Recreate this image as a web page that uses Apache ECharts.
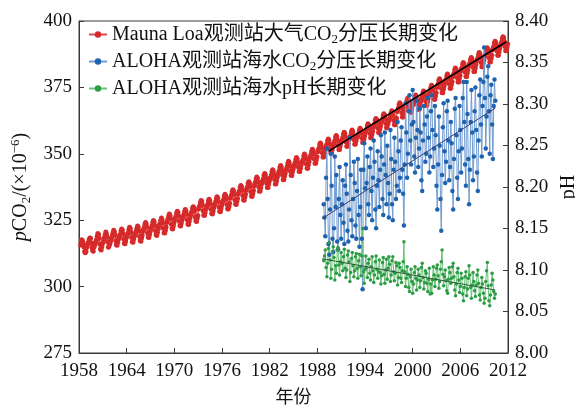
<!DOCTYPE html>
<html><head><meta charset="utf-8">
<script src="https://cdn.jsdelivr.net/npm/echarts@6/dist/echarts.min.js"></script>
<style>html,body{margin:0;padding:0;background:#fff}#c{width:575px;height:410px}</style>
</head><body><div id="c"></div>
<script>
// ---------------- data ----------------
const seriesNames = ['Mauna Loa观测站大气CO2分压长期变化', 'ALOHA观测站海水CO2分压长期变化', 'ALOHA观测站海水pH长期变化'];
const xTickLabels = ['1958','1964','1970','1976','1982','1988','1994','2000','2006','2012'];
const leftTickValues = [275, 300, 325, 350, 375, 400];
const rightTickValues = [8.00, 8.05, 8.10, 8.15, 8.20, 8.25, 8.30, 8.35, 8.40];

// Mauna Loa monthly atmospheric CO2, starting March 1958
const mlStartYear = 1958, mlStartMonth = 3;
const maunaLoaCO2 = [
315.7,317.5,317.5,317.1,315.9,314.9,313.2,312.7,313.3,314.7,
315.6,316.4,316.7,317.7,318.3,318.2,316.5,314.8,313.8,313.3,314.8,315.6,
316.4,317.0,317.6,319.0,320.0,319.6,318.2,315.9,314.2,313.8,315.0,316.2,
316.9,317.7,318.5,319.5,320.6,319.8,318.6,316.8,314.8,315.4,316.1,317.0,
318.0,318.6,319.3,320.4,321.2,320.6,319.4,317.3,315.8,315.6,316.7,317.8,
318.5,319.1,319.7,321.0,321.7,321.2,319.9,317.9,316.3,316.1,317.2,318.4,
319.1,319.8,320.4,321.6,322.3,321.8,320.5,318.5,316.9,316.7,317.8,319.0,
319.5,320.2,320.9,322.0,322.8,322.3,320.9,318.9,317.4,317.1,318.3,319.4,
320.9,321.5,322.2,323.4,324.1,323.6,322.3,320.3,318.7,318.5,319.6,320.8,
321.7,322.2,323.0,324.2,324.9,324.4,323.0,321.0,319.5,319.2,320.4,321.6,
322.5,323.2,323.8,325.0,325.8,325.2,323.9,322.0,320.3,320.2,321.2,322.4,
324.1,324.7,325.5,326.6,327.3,326.8,325.5,323.5,321.9,321.7,322.8,324.0,
325.2,325.8,326.5,327.7,328.4,327.9,326.6,324.6,323.0,322.8,323.9,325.1,
325.8,326.4,327.1,328.3,329.0,328.5,327.2,325.2,323.6,323.4,324.5,325.7,
326.9,327.6,328.3,329.5,330.1,329.7,328.4,326.3,324.8,324.5,325.7,326.8,
329.2,329.8,330.5,331.7,332.4,331.9,330.6,328.6,327.0,326.8,327.9,329.1,
329.7,330.3,331.0,332.2,332.9,332.4,331.1,329.1,327.5,327.3,328.4,329.6,
330.6,331.2,331.9,333.1,333.8,333.3,332.0,330.0,328.4,328.2,329.3,330.5,
331.5,332.2,332.8,334.0,334.8,334.2,332.9,330.9,329.3,329.2,330.2,331.4,
333.3,333.9,334.6,335.8,336.5,336.0,334.7,332.7,331.1,330.9,332.0,333.2,
334.9,335.5,336.2,337.4,338.1,337.6,336.3,334.3,332.7,332.5,333.6,334.8,
336.3,336.9,337.6,338.8,339.5,339.0,337.7,335.7,334.1,333.9,335.0,336.2,
337.9,338.6,339.3,340.5,341.3,340.8,339.4,337.6,335.9,336.0,337.2,338.5,
339.3,339.9,340.6,341.9,342.6,342.1,340.8,338.9,337.3,337.3,338.6,339.8,
340.7,341.2,342.0,343.2,344.0,343.4,342.1,340.3,338.6,338.7,339.9,341.2,
342.2,342.9,343.6,344.8,345.6,345.0,343.7,341.9,340.2,340.3,341.6,342.7,
343.9,344.4,345.2,346.4,347.2,346.6,345.4,343.4,341.9,341.8,343.2,344.3,
345.3,345.9,346.6,347.9,348.6,348.1,346.8,344.9,343.3,343.3,344.6,345.8,
346.6,347.2,347.9,349.2,349.9,349.4,348.1,346.2,344.6,344.6,345.9,347.1,
348.4,349.0,349.7,351.0,351.7,351.2,349.9,348.0,346.4,346.4,347.7,348.9,
350.8,351.4,352.1,353.4,354.1,353.6,352.3,350.4,348.8,348.8,350.1,351.3,
352.3,352.9,353.6,354.9,355.6,355.1,353.8,351.9,350.3,350.3,351.6,352.8,
353.6,354.2,354.9,356.2,356.9,356.4,355.1,353.2,351.6,351.6,352.9,354.1,
354.8,355.4,356.1,357.4,358.1,357.6,356.3,354.4,352.8,352.8,354.1,355.3,
355.7,356.3,357.0,358.2,359.0,358.4,357.1,355.3,353.6,353.7,354.9,356.2,
356.3,356.9,357.6,358.9,359.6,359.1,357.8,355.9,354.3,354.3,355.6,356.8,
358.0,358.6,359.3,360.6,361.3,360.8,359.5,357.6,356.0,356.0,357.3,358.5,
360.0,360.6,361.3,362.6,363.3,362.8,361.5,359.6,358.0,358.0,359.3,360.5,
361.8,362.4,363.1,364.4,365.1,364.6,363.3,361.4,359.8,359.8,361.1,362.3,
362.9,363.5,364.2,365.5,366.2,365.7,364.4,362.5,360.9,360.9,362.2,363.4,
365.9,366.5,367.2,368.5,369.2,368.7,367.4,365.5,363.9,363.9,365.2,366.4,
367.6,368.2,368.9,370.2,370.9,370.4,369.1,367.2,365.6,365.6,366.9,368.1,
368.8,369.4,370.1,371.3,372.1,371.5,370.2,368.4,366.7,366.8,368.0,369.3,
370.3,370.9,371.6,372.9,373.6,373.1,371.8,369.9,368.3,368.3,369.6,370.8,
372.5,373.1,373.8,375.1,375.8,375.3,374.0,372.1,370.5,370.5,371.8,373.0,
375.0,375.6,376.3,377.6,378.3,377.8,376.5,374.6,373.0,373.0,374.3,375.5,
376.7,377.3,378.0,379.3,380.0,379.5,378.2,376.3,374.7,374.7,376.0,377.2,
379.0,379.6,380.3,381.6,382.3,381.8,380.5,378.6,377.0,377.0,378.3,379.5,
381.1,381.7,382.4,383.7,384.4,383.9,382.6,380.7,379.1,379.1,380.4,381.6,
383.0,383.6,384.3,385.6,386.3,385.8,384.5,382.6,381.0,381.0,382.3,383.5,
384.8,385.4,386.1,387.4,388.1,387.6,386.3,384.4,382.8,382.8,384.1,385.3,
386.6,387.2,387.9,389.2,389.9,389.4,388.1,386.2,384.6,384.6,385.9,387.1,
389.1,389.7,390.4,391.7,392.4,391.9,390.6,388.7,387.1,387.1,388.4,389.6,
390.8,391.4,392.1,393.4,394.1,393.6,392.3,390.4,388.8,388.8,390.1,391.3
];

// ALOHA (HOT) samples, roughly every 0.1 yr from 1988.8
const alohaStartYear = 1988.8, alohaStep = 0.1;
const alohaPCO2 = [
331,326,319,341,352,333,316,312,329,350,
338,318,313,322,349,330,342,317,314,333,
345,327,318,331,340,324,316,338,346,335,
321,317,329,356,342,325,319,333,347,339,
323,318,336,348,327,315,330,344,318,299,
344,354,337,322,339,349,331,327,345,352,
336,325,341,355,347,329,322,338,351,340,
330,344,357,349,333,327,346,358,342,331,
353,339,326,335,359,348,331,325,344,356,
347,333,338,362,351,336,341,355,360,344,
335,323,346,369,358,341,350,366,372,355,
346,361,374,362,349,343,356,370,359,345,
352,367,358,340,336,355,368,361,347,350,
364,371,356,343,349,366,372,359,345,352,
368,357,338,329,346,364,353,333,321,342,
360,369,351,339,347,366,370,355,340,345,
362,354,336,329,348,367,371,357,341,333,
351,368,359,343,352,371,377,362,346,338,
377,365,348,331,344,362,374,358,340,349,
366,375,359,343,336,355,372,378,361,349,
368,377,390,371,352,364,379,383,366,350,
372,376,361,348,368,378,370
];
const alohaPH = [
8.111,8.117,8.124,8.103,8.092,8.108,8.126,8.133,8.112,8.090,
8.101,8.122,8.128,8.115,8.088,8.105,8.096,8.124,8.127,8.106,
8.094,8.110,8.121,8.108,8.099,8.116,8.125,8.102,8.091,8.100,
8.118,8.123,8.110,8.086,8.097,8.114,8.121,8.105,8.092,8.099,
8.116,8.120,8.102,8.090,8.111,8.119,8.104,8.093,8.117,8.150,
8.098,8.084,8.101,8.117,8.103,8.091,8.108,8.113,8.096,8.088,
8.104,8.116,8.099,8.085,8.094,8.110,8.117,8.101,8.090,8.098,
8.112,8.097,8.083,8.093,8.109,8.115,8.095,8.084,8.100,8.113,
8.089,8.102,8.116,8.107,8.086,8.094,8.111,8.116,8.098,8.087,
8.096,8.109,8.105,8.082,8.091,8.108,8.103,8.090,8.085,8.099,
8.110,8.134,8.098,8.080,8.090,8.104,8.095,8.079,8.074,8.092,
8.101,8.086,8.072,8.083,8.097,8.104,8.090,8.076,8.088,8.101,
8.094,8.079,8.087,8.103,8.108,8.091,8.077,8.085,8.099,8.096,
8.084,8.074,8.089,8.102,8.071,8.083,8.072,8.088,8.104,8.094,
8.080,8.089,8.102,8.106,8.093,8.078,8.086,8.101,8.110,8.124,
8.095,8.081,8.092,8.100,8.087,8.075,8.072,8.089,8.103,8.097,
8.084,8.090,8.104,8.108,8.092,8.076,8.069,8.083,8.097,8.102,
8.088,8.073,8.080,8.096,8.090,8.071,8.063,8.079,8.092,8.098,
8.069,8.077,8.090,8.105,8.094,8.079,8.066,8.082,8.097,8.086,
8.075,8.068,8.082,8.094,8.100,8.084,8.070,8.064,8.079,8.091,
8.083,8.072,8.060,8.066,8.086,8.099,8.109,8.081,8.063,8.057,
8.070,8.082,8.096,8.088,8.074,8.066,8.071
];

// linear trend lines (end points)
const mlTrendYears = [1989.4, 2011.8];
const mlTrendValues = [350.9, 392.2];
const swTrendYears = [1988.6, 2010.4];
const swTrendValues = [325.6, 367.2];
const phTrendYears = [1988.6, 2010.4];
const phTrendValues = [8.1136, 8.0759];

// ---------------- chart ----------------
const BASE = 1958;
const SERIF = '"Liberation Serif","Times New Roman","Noto Sans CJK SC",serif';
const AX = '#3a3a3a';

const mlPts = maunaLoaCO2.map((v, i) => [mlStartYear + (mlStartMonth - 1 + i + 0.5) / 12 - BASE, v]);
const swPts = alohaPCO2.map((v, i) => [alohaStartYear + i * alohaStep - BASE, v]);
const phPts = alohaPH.map((v, i) => [alohaStartYear + i * alohaStep - BASE, v]);
const pair = (xs, ys) => xs.map((x, i) => [x - BASE, ys[i]]);

const richBase = {
  n: {fontFamily: SERIF, fontSize: 20, color: '#111'},
  s: {fontFamily: SERIF, fontSize: 13, color: '#111', verticalAlign: 'bottom', lineHeight: 13},
};

const chart = echarts.init(document.getElementById('c'), null, {renderer: 'canvas'});
chart.setOption({
  animation: false,
  backgroundColor: '#fff',
  grid: {left: 79, right: 67, top: 21, bottom: 57, show: true, borderColor: AX, borderWidth: 1,
         backgroundColor: 'transparent', containLabel: false, outerBoundsMode: 'none'},
  legend: {
    orient: 'vertical', left: 88, top: 23, itemWidth: 18, itemHeight: 8, itemGap: 4,
    data: seriesNames,
    formatter: n => n.replace('CO2', 'CO{s|2}'),
    textStyle: {fontFamily: SERIF, fontSize: 20, color: '#111', lineHeight: 23, rich: richBase},
    padding: 0
  },
  xAxis: {
    type: 'value', min: 0, max: 54, interval: 6,
    axisLine: {show: true, lineStyle: {color: AX, width: 1}},
    axisTick: {show: true, inside: true, length: 5, lineStyle: {color: AX}},
    axisLabel: {formatter: v => xTickLabels[Math.round(v / 6)], fontFamily: SERIF, fontSize: 19, color: '#111', margin: 9},
    splitLine: {show: false},
    name: '年份', nameLocation: 'middle', nameGap: 36,
    nameTextStyle: {fontFamily: SERIF, fontSize: 18, color: '#111'}
  },
  yAxis: [{
    type: 'value', position: 'left', min: leftTickValues[0], max: leftTickValues[leftTickValues.length - 1], interval: 25,
    axisLine: {show: true, lineStyle: {color: AX, width: 1}},
    axisTick: {show: true, inside: true, length: 5, lineStyle: {color: AX}},
    axisLabel: {fontFamily: SERIF, fontSize: 19, color: '#111', margin: 7},
    splitLine: {show: false},
    name: '{i|p}{n|CO}{s|2}{n|/(×10}{u|−6}{n|)}', nameLocation: 'middle', nameGap: 44, nameRotate: 90,
    nameTextStyle: {fontFamily: SERIF, fontSize: 20, color: '#111', lineHeight: 24, rich: {
      i: {fontFamily: SERIF, fontSize: 20, fontStyle: 'italic', color: '#111'},
      n: {fontFamily: SERIF, fontSize: 20, color: '#111'},
      s: {fontFamily: SERIF, fontSize: 13, color: '#111', verticalAlign: 'bottom', lineHeight: 13},
      u: {fontFamily: SERIF, fontSize: 13, color: '#111', verticalAlign: 'top', lineHeight: 13}
    }}
  }, {
    type: 'value', position: 'right', min: rightTickValues[0], max: rightTickValues[rightTickValues.length - 1], interval: 0.05,
    axisLine: {show: true, lineStyle: {color: AX, width: 1}},
    axisTick: {show: true, inside: true, length: 5, lineStyle: {color: AX}},
    axisLabel: {formatter: v => v.toFixed(2), fontFamily: SERIF, fontSize: 19, color: '#111', margin: 7},
    splitLine: {show: false},
    name: 'pH', nameLocation: 'middle', nameGap: 49, nameRotate: 90,
    nameTextStyle: {fontFamily: SERIF, fontSize: 20, color: '#111'}
  }],
  series: [
    {name: seriesNames[0], type: 'line', yAxisIndex: 0, data: mlPts, symbol: 'circle', symbolSize: 5, showSymbol: true,
     lineStyle: {color: '#e04848', width: 1.2}, itemStyle: {color: '#d62a2a'}, z: 2},
    {name: seriesNames[1], type: 'line', yAxisIndex: 0, data: swPts, symbol: 'circle', symbolSize: 4.5, showSymbol: true,
     lineStyle: {color: '#6f9bd0', width: 1}, itemStyle: {color: '#1f62ad'}, z: 3},
    {name: seriesNames[2], type: 'line', yAxisIndex: 1, data: phPts, symbol: 'circle', symbolSize: 3.5, showSymbol: true,
     lineStyle: {color: '#6cc07a', width: 1}, itemStyle: {color: '#2c9c45'}, z: 3},
    {name: 'mlTrend', type: 'line', yAxisIndex: 0, data: pair(mlTrendYears, mlTrendValues), showSymbol: false, symbol: 'none',
     lineStyle: {color: '#000', width: 1.6}, z: 5, silent: true},
    {name: 'swTrend', type: 'line', yAxisIndex: 0, data: pair(swTrendYears, swTrendValues), showSymbol: false, symbol: 'none',
     lineStyle: {color: '#3c3a6e', width: 1}, z: 5, silent: true},
    {name: 'phTrend', type: 'line', yAxisIndex: 1, data: pair(phTrendYears, phTrendValues), showSymbol: false, symbol: 'none',
     lineStyle: {color: '#2f5a3c', width: 1}, z: 5, silent: true}
  ]
});
</script></body></html>
